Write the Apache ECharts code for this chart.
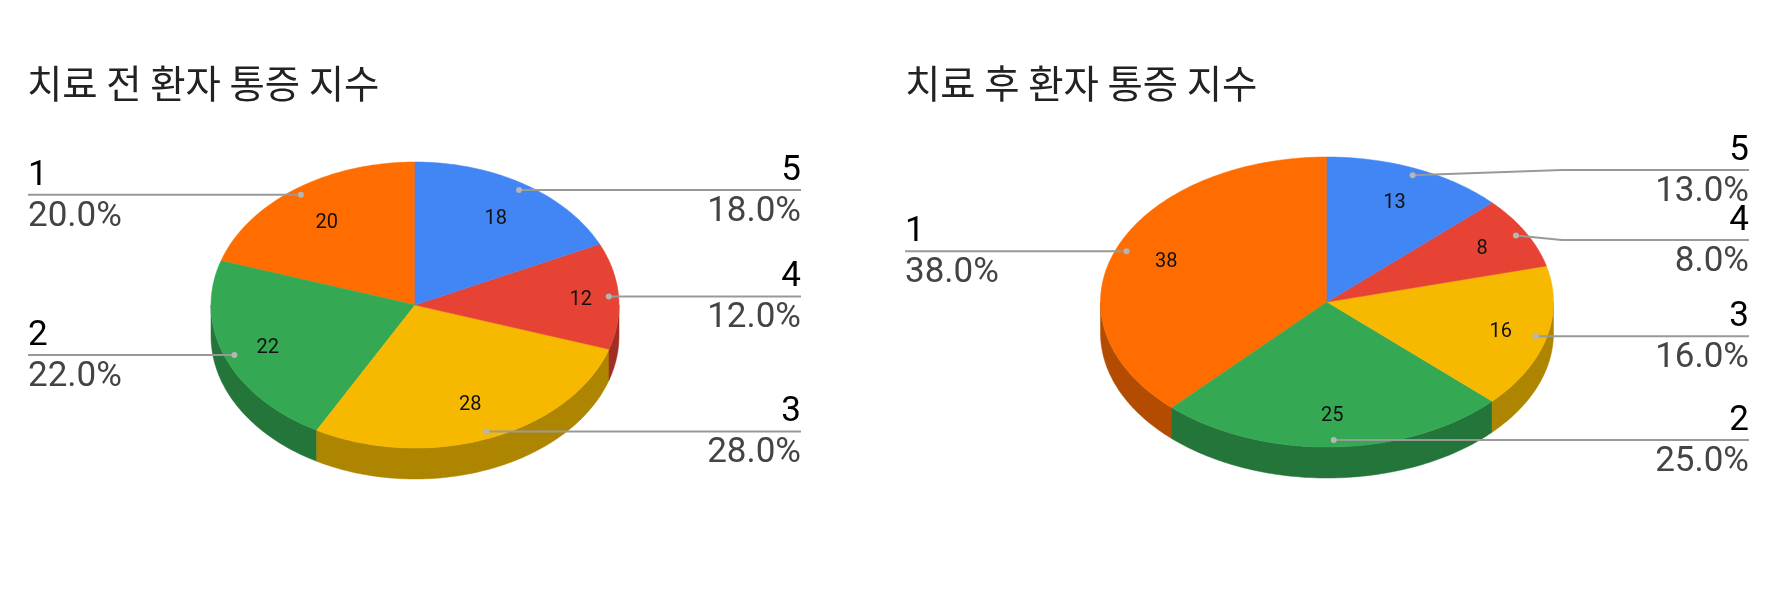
<!DOCTYPE html>
<html><head><meta charset="utf-8">
<style>html,body{margin:0;padding:0;background:#fff}#c{width:1776px;height:592px}</style>
<script src="https://cdn.jsdelivr.net/npm/echarts@6/dist/echarts.min.js"></script>
</head><body><div id="c"></div>
<script>
// Data
const categories = ['1','2','3','4','5'];
const valuesBefore = [20,22,28,12,18];
const valuesAfter = [38,25,16,8,13];
const titles = ['치료 전 환자 통증 지수','치료 후 환자 통증 지수'];
// Appearance
const topColors = {'1':'#ff6d00','2':'#34a853','3':'#f6b900','4':'#e64335','5':'#4285f4'};
const sideColors = {'1':'#b34c00','2':'#24753a','3':'#ae8500','4':'#a12e25','5':'#2e5dab'};
const pies = [
  {cx:415,cy:305,rx:204,ry:143,depth:31,left:28,right:801,labelY:{},elbowX:0,
   nudge:{'1':[3,6],'2':[3,1],'3':[-1,1],'4':[3,2],'5':[-2,5]}},
  {cx:1327,cy:302,rx:226.5,ry:145,depth:31,left:905,right:1749,labelY:{'5':170,'4':240},elbowX:1562,
   nudge:{'1':[6,2],'2':[0,7],'3':[-1,1],'4':[-1,2],'5':[0,1]}}
];
const FONT='Roboto, "Liberation Sans", sans-serif';
const D=Math.PI/180;
function pt(p,deg,f,dy){return [p.cx+p.rx*f*Math.sin(deg*D),p.cy-p.ry*f*Math.cos(deg*D)+(dy||0)];}
function arc(p,a,b,dy){const o=[],n=Math.max(2,Math.ceil(Math.abs(b-a)));for(let i=0;i<=n;i++)o.push(pt(p,a+(b-a)*i/n,1,dy));return o;}
function render(pieIdx,vals){
  const p=pies[pieIdx],total=vals.reduce((s,v)=>s+v,0);
  return function(params,api){
    const i=params.dataIndex,val=api.value(0),name=categories[i];
    // Slices run clockwise from 12 o'clock, last category first
    let before=0;for(let k=vals.length-1;k>i;k--)before+=vals[k];
    const a=before/total*360,b=(before+val)/total*360,mid=(a+b)/2,s=Math.sin(mid*D);
    const kids=[];
    const wa=Math.max(a,90),wb=Math.min(b,270);
    if(wb>wa){
      kids.push({type:'polygon',z2:1,shape:{points:arc(p,wa,wb,0).concat(arc(p,wb,wa,p.depth))},
        style:{fill:sideColors[name],stroke:sideColors[name],lineWidth:.5}});
    }
    kids.push({type:'polygon',z2:2,shape:{points:[[p.cx,p.cy]].concat(arc(p,a,b,0))},
      style:{fill:topColors[name],stroke:topColors[name],lineWidth:.5}});
    const dot=pt(p,mid,.952);
    const onRight=mid<180;
    const edge=onRight?p.right:p.left;
    const ly=p.labelY[name]!==undefined?p.labelY[name]:dot[1];
    const pts=[dot];
    if(ly!==dot[1])pts.push([p.elbowX,ly]);
    pts.push([edge,ly]);
    kids.push({type:'polyline',z2:3,shape:{points:pts},style:{stroke:'#999',lineWidth:2,fill:null}});
    kids.push({type:'circle',z2:4,shape:{cx:dot[0],cy:dot[1],r:3},style:{fill:'#b5b5b5'}});
    const f=.74+.06*s*s, lp=pt(p,mid,f), n=p.nudge[name];
    kids.push({type:'text',z2:5,style:{text:String(val),x:lp[0]+n[0],y:lp[1]+n[1],fill:'#111',font:'20px '+FONT,align:'center',verticalAlign:'middle'}});
    const al=onRight?'right':'left';
    kids.push({type:'text',z2:5,style:{text:name,x:edge,y:ly-19,fill:'#000',font:'35px '+FONT,align:al,verticalAlign:'middle'}});
    kids.push({type:'text',z2:5,style:{text:(val/total*100).toFixed(1)+'%',x:edge,y:ly+22,fill:'#444',font:'35px '+FONT,align:al,verticalAlign:'middle'}});
    return {type:'group',children:kids};
  };
}
const chart=echarts.init(document.getElementById('c'),null,{renderer:'canvas',width:1776,height:592});
const toData=v=>categories.map((c,i)=>({name:c,value:[v[i]]}));
chart.setOption({
  animation:false,backgroundColor:'#fff',
  title:titles.map((t,i)=>({text:t,left:pies[i].left-6+(i?1:0),top:59,textStyle:{fontFamily:'"Noto Sans CJK KR"',fontSize:38.4,fontWeight:'normal',color:'#222'}})),
  series:[valuesBefore,valuesAfter].map((v,i)=>({type:'custom',coordinateSystem:'none',silent:true,renderItem:render(i,v),data:toData(v)}))
});
</script></body></html>
